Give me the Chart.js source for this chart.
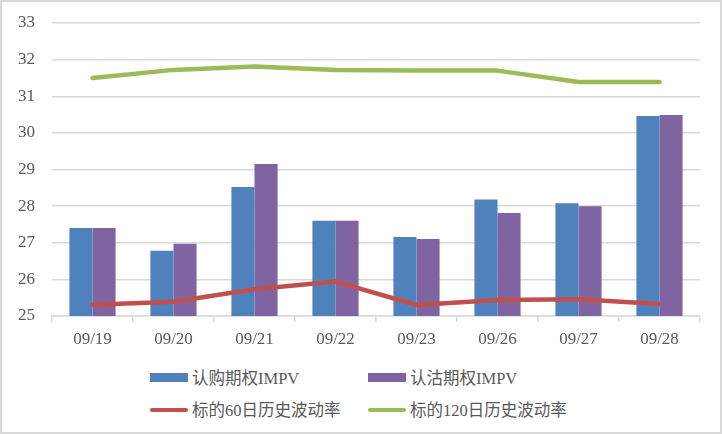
<!DOCTYPE html>
<html>
<head>
<meta charset="utf-8">
<script src="https://cdn.jsdelivr.net/npm/chart.js@4/dist/chart.umd.min.js"></script>
<style>
  html, body { margin: 0; padding: 0; background: #fff; }
  #wrap { position: relative; width: 722px; height: 434px; box-sizing: border-box; border: 2px solid #d9d9d9; }
  #box { position: absolute; left: 0; top: 0; width: 718px; height: 348px; }
  .leg { position: absolute; font-family: "Liberation Serif", "Noto Sans CJK SC", serif; font-size: 16.5px; color: #595959; white-space: nowrap; }
  .sw { position: absolute; }
</style>
</head>
<body>
<div id="wrap">
  <div id="box"><canvas id="myChart"></canvas></div>
  <div id="legend"></div>
</div>
<script>
// 数据
const labels = ['09/19', '09/20', '09/21', '09/22', '09/23', '09/26', '09/27', '09/28'];
const callIV = [27.4, 26.78, 28.52, 27.6, 27.16, 28.18, 28.08, 30.46];
const putIV = [27.4, 26.97, 29.15, 27.6, 27.1, 27.81, 28.0, 30.49];
const hv60 = [25.31, 25.39, 25.73, 25.94, 25.3, 25.44, 25.46, 25.33];
const hv120 = [31.5, 31.72, 31.81, 31.72, 31.7, 31.7, 31.39, 31.39];
const yTicks = [25, 26, 27, 28, 29, 30, 31, 32, 33];

const fontFam = '"Liberation Serif", "Noto Sans CJK SC", serif';

const ctx = document.getElementById('myChart').getContext('2d');
new Chart(ctx, {
    type: 'bar',
    data: {
        labels: labels,
        datasets: [
            { type: 'line', label: '标的60日历史波动率', data: hv60, borderColor: '#C0504D', borderWidth: 4.5, borderCapStyle: 'round', borderJoinStyle: 'round', pointRadius: 0, fill: false, order: 1 },
            { type: 'line', label: '标的120日历史波动率', data: hv120, borderColor: '#9BBB59', borderWidth: 4.5, borderCapStyle: 'round', borderJoinStyle: 'round', pointRadius: 0, fill: false, order: 1 },
            { label: '认购期权IMPV', data: callIV, backgroundColor: '#4F81BD', categoryPercentage: 0.57, barPercentage: 1, order: 2 },
            { label: '认沽期权IMPV', data: putIV, backgroundColor: '#8064A2', categoryPercentage: 0.57, barPercentage: 1, order: 2 }
        ]
    },
    options: {
        responsive: true,
        maintainAspectRatio: false,
        animation: false,
        layout: { padding: { left: 0, right: 20, top: 21, bottom: 0 } },
        plugins: { legend: { display: false }, tooltip: { enabled: false } },
        scales: {
            x: {
                grid: { drawOnChartArea: false, drawTicks: true, tickLength: 6, color: '#d9d9d9', lineWidth: 1.5 },
                border: { display: true, color: '#d9d9d9', width: 1.5 },
                ticks: { color: '#595959', font: { family: fontFam, size: 17 }, padding: 7 },
                afterFit: s => { s.height = 34; s.paddingLeft = 0; s.paddingRight = 0; }
            },
            y: {
                min: 25,
                max: 33,
                afterBuildTicks: axis => { axis.ticks = yTicks.map(v => ({ value: v })); },
                grid: { color: '#d9d9d9', lineWidth: 1.5, drawTicks: false },
                border: { display: false },
                ticks: { color: '#595959', font: { family: fontFam, size: 17 }, padding: 17 },
                afterFit: s => { s.width = 50; s.paddingTop = 0; s.paddingBottom = 0; }
            }
        }
    }
});

// 图例
const legendItems = [
    { text: '认购期权IMPV', color: '#4F81BD', kind: 'box', x: 148, y: 376 },
    { text: '认沽期权IMPV', color: '#8064A2', kind: 'box', x: 366, y: 376 },
    { text: '标的60日历史波动率', color: '#C0504D', kind: 'line', x: 148, y: 408 },
    { text: '标的120日历史波动率', color: '#9BBB59', kind: 'line', x: 366, y: 408 }
];
const legend = document.getElementById('legend');
legendItems.forEach(item => {
    const sw = document.createElement('div');
    sw.className = 'sw';
    sw.style.left = item.x + 'px';
    sw.style.width = '38px';
    sw.style.background = item.color;
    if (item.kind === 'box') {
        sw.style.top = (item.y - 5) + 'px';
        sw.style.height = '9px';
    } else {
        sw.style.top = (item.y - 2) + 'px';
        sw.style.height = '4px';
        sw.style.borderRadius = '2px';
    }
    legend.appendChild(sw);
    const t = document.createElement('div');
    t.className = 'leg';
    t.style.left = (item.x + 42) + 'px';
    t.style.top = (item.y - 13) + 'px';
    t.textContent = item.text;
    legend.appendChild(t);
});
</script>
</body>
</html>
